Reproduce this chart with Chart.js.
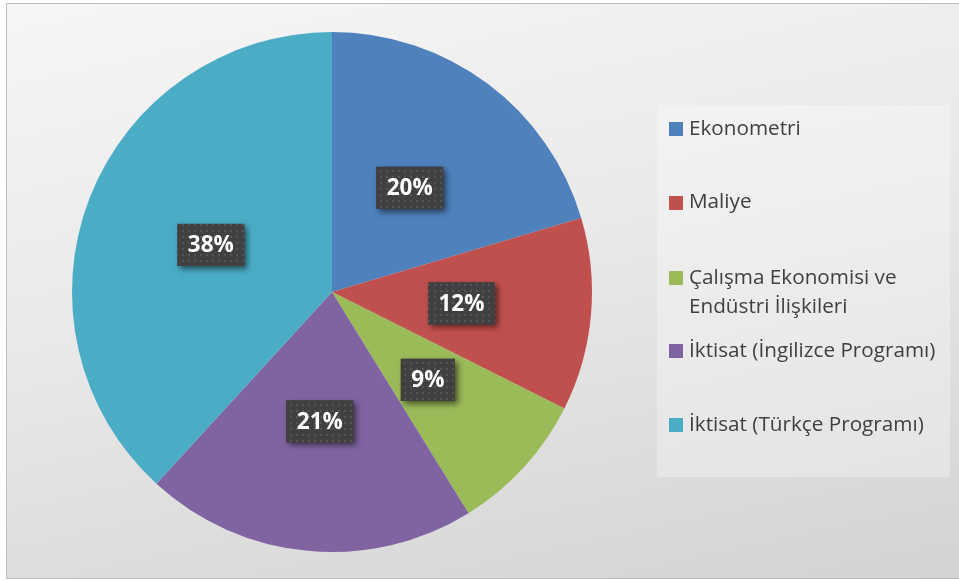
<!DOCTYPE html>
<html>
<head>
<meta charset="utf-8">
<script src="https://cdn.jsdelivr.net/npm/chart.js@4/dist/chart.umd.min.js"></script>
<style>
  html, body { margin: 0; padding: 0; background: #ffffff; }
  #wrap { position: relative; width: 959px; height: 581px; overflow: hidden; }
  #frame {
    position: absolute; left: 6px; top: 3px; width: 953px; height: 574px;
    border-top: 1px solid #bfbfbf; border-left: 1px solid #bfbfbf; border-bottom: 1px solid #bfbfbf;
    background: linear-gradient(168deg, #f6f6f6 0%, #e9e9e9 45%, #d3d3d3 100%);
  }
  #legendBox {
    position: absolute; left: 657px; top: 105px; width: 293px; height: 372px;
    background: rgba(255,255,255,0.3);
  }
  canvas { position: absolute; left: 0; top: 0; }
  .li { position: absolute; left: 669px; font-family: "Open Sans", sans-serif; font-size: 20.7px;
        line-height: 29px; color: #404040; }
  .li .sw { position: absolute; left: 0; top: 9.5px; width: 14px; height: 14px; }
  .li .tx { position: absolute; left: 20px; top: 0; width: 258px; white-space: normal; }
</style>
</head>
<body>
<div id="wrap">
  <div id="frame"></div>
  <div id="legendBox"></div>
  <canvas id="c" width="959" height="581"></canvas>
  <div id="legend"></div>
</div>
<script>
const categories = [
  "Ekonometri",
  "Maliye",
  "Çalışma Ekonomisi ve Endüstri İlişkileri",
  "İktisat (İngilizce Programı)",
  "İktisat (Türkçe Programı)"
];
const shares = [20.4, 12.0, 8.8, 20.6, 38.2];
const sliceColors = ["#4F81BD", "#C0504D", "#9BBB59", "#8064A2", "#4BACC6"];

// legend layout (text baselines of first line, px)
const legendBaselines = [135, 208.7, 284, 357, 431];

// dotted pattern for label boxes
function makePattern(ctx) {
  const p = document.createElement('canvas');
  p.width = 6; p.height = 6;
  const g = p.getContext('2d');
  g.fillStyle = '#404040';
  g.fillRect(0, 0, 6, 6);
  g.fillStyle = '#555555';
  g.fillRect(2, 2, 2, 2);
  return ctx.createPattern(p, 'repeat');
}

const labelPlugin = {
  id: 'boxLabels',
  afterDatasetsDraw(chart) {
    const ctx = chart.ctx;
    const meta = chart.getDatasetMeta(0);
    const total = shares.reduce((a, b) => a + b, 0);
    const pat = makePattern(ctx);
    ctx.save();
    ctx.font = 'bold 22.5px "Open Sans", sans-serif';
    ctx.textAlign = 'center';
    ctx.textBaseline = 'middle';
    meta.data.forEach((arc, i) => {
      const pos = arc.tooltipPosition();
      const txt = Math.round(shares[i] / total * 100) + '%';
      const w = ctx.measureText(txt).width + 21;
      const h = 42;
      const x = pos.x - w / 2, y = pos.y - h / 2;
      ctx.save();
      ctx.shadowColor = 'rgba(0,0,0,0.55)';
      ctx.shadowBlur = 6;
      ctx.shadowOffsetX = 3;
      ctx.shadowOffsetY = 3;
      ctx.fillStyle = '#404040';
      ctx.fillRect(x, y, w, h);
      ctx.restore();
      ctx.fillStyle = pat;
      ctx.fillRect(x, y, w, h);
      ctx.fillStyle = '#ffffff';
      ctx.fillText(txt, pos.x, pos.y + 1);
    });
    ctx.restore();
  }
};

const chart = new Chart(document.getElementById('c'), {
  type: 'pie',
  data: {
    labels: categories,
    datasets: [{
      data: shares,
      backgroundColor: sliceColors,
      borderWidth: 0
    }]
  },
  options: {
    responsive: false,
    animation: false,
    layout: { padding: { left: 72, right: 367, top: 32, bottom: 29 } },
    plugins: {
      legend: { display: false },
      tooltip: { enabled: false }
    }
  },
  plugins: [labelPlugin]
});

// HTML legend built from chart data
const items = Chart.overrides.pie.plugins.legend.labels.generateLabels(chart);
const legendEl = document.getElementById('legend');
items.forEach((it, i) => {
  const d = document.createElement('div');
  d.className = 'li';
  d.style.top = (legendBaselines[i] - 22.5) + 'px';
  const sw = document.createElement('div');
  sw.className = 'sw';
  sw.style.background = it.fillStyle;
  const tx = document.createElement('div');
  tx.className = 'tx';
  tx.textContent = it.text;
  d.appendChild(sw); d.appendChild(tx);
  legendEl.appendChild(d);
});
</script>
</body>
</html>
